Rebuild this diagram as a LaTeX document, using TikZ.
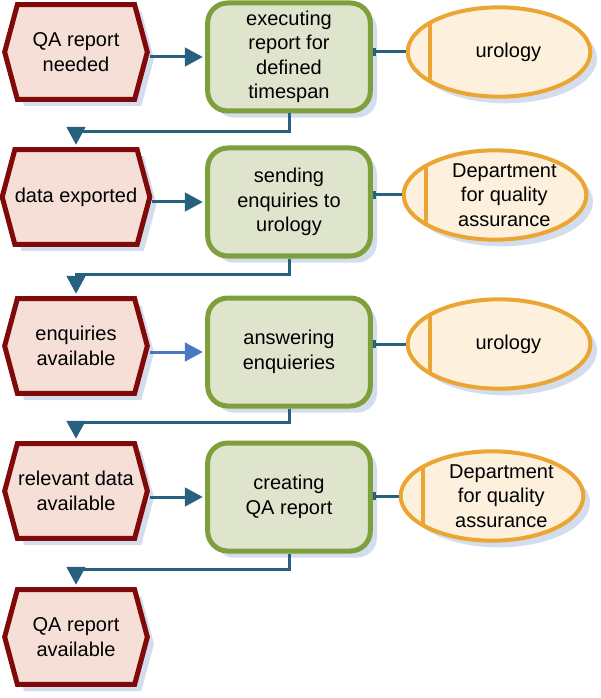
\documentclass[tikz,border=0pt]{standalone}
\usepackage{fontspec}
\setmainfont{Liberation Sans}
\usetikzlibrary{shapes.geometric,shapes.symbols,arrows.meta,shadows}
\definecolor{evline}{RGB}{128,10,10}
\definecolor{evfill}{RGB}{245,223,214}
\definecolor{fnline}{RGB}{125,160,60}
\definecolor{fnfill}{RGB}{223,228,205}
\definecolor{orgline}{RGB}{234,165,50}
\definecolor{orgfill}{RGB}{253,241,222}
\definecolor{flowcol}{RGB}{40,96,128}
\definecolor{flowlight}{RGB}{74,120,192}
\definecolor{shadowcol}{RGB}{212,221,238}
\tikzset{
  every node/.style={font=\fontsize{15pt}{18.4pt}\selectfont},
  backshadow/.style={drop shadow={shadow xshift=5pt,shadow yshift=-5pt,fill=shadowcol,opacity=1}},
  event/.style={signal,signal to=east and west,signal pointer angle=150,
    draw=evline,fill=evfill,line width=3.75pt,minimum width=107pt,minimum height=71pt,
    inner sep=0pt,align=center,backshadow},
  func/.style={rectangle,rounded corners=15pt,draw=fnline,fill=fnfill,line width=3.75pt,
    minimum width=122pt,minimum height=81pt,inner sep=0pt,align=center,backshadow},
  org/.style={ellipse,draw=orgline,fill=orgfill,line width=3pt,
    minimum width=137pt,minimum height=67pt,inner sep=0pt,backshadow,
    path picture={\draw[orgline,line width=3pt]
      ([xshift=16.5pt]path picture bounding box.south west) --
      ([xshift=16.5pt]path picture bounding box.north west);},
    label={[align=center,xshift=7pt]center:#1}},
  flow/.style={draw=flowcol,line width=2.25pt,-{Triangle[length=13.5pt,width=14pt]},shorten >=1.8pt},
  assign/.style={draw=flowcol,line width=2.25pt,{Bar[width=6pt]}-}
}
\begin{document}
\begin{tikzpicture}[x=0.75pt,y=-0.75pt]
  \useasboundingbox (0,0) rectangle (600,698);
  % events
  \node[event] (e1) at (76,52) {QA report\\needed};
  \node[event] (e2) at (76,197) {data exported};
  \node[event] (e3) at (76,346) {enquiries\\available};
  \node[event] (e4) at (76,491) {relevant data\\available};
  \node[event] (e5) at (76,637) {QA report\\available};
  % functions
  \node[func] (f1) at (289,57) {executing\\report for\\defined\\timespan};
  \node[func] (f2) at (289,202) {sending\\enquiries to\\urology};
  \node[func] (f3) at (289,352) {answering\\enquieries};
  \node[func] (f4) at (289,497) {creating\\QA report};
  % organisational units
  \node[org={urology}] (o1) at (499,52) {};
  \node[org={Department\\for quality\\assurance}] (o2) at (495,195) {};
  \node[org={urology}] (o3) at (499,344) {};
  \node[org={Department\\for quality\\assurance}] (o4) at (492,496) {};
  \begin{scope}[flow]
    \draw (e1.east |- f1.west) -- (f1.west);
    \draw (e2.east |- f2.west) -- (f2.west);
    \draw[draw=flowlight] (e3.east |- f3.west) -- (f3.west);
    \draw (e4.east |- f4.west) -- (f4.west);
    \draw (f1.south) -- ++(0,18) -| (e2.north);
    \draw (f2.south) -- ++(0,16) -| (e3.north);
    \draw (f3.south) -- ++(0,14) -| (e4.north);
    \draw (f4.south) -- ++(0,16) -| (e5.north);
  \end{scope}
  \begin{scope}[assign]
    \draw (f1.east |- o1.west) -- (o1.west);
    \draw (f2.east |- o2.west) -- (o2.west);
    \draw (f3.east |- o3.west) -- (o3.west);
    \draw (f4.east |- o4.west) -- (o4.west);
  \end{scope}
\end{tikzpicture}
\end{document}
